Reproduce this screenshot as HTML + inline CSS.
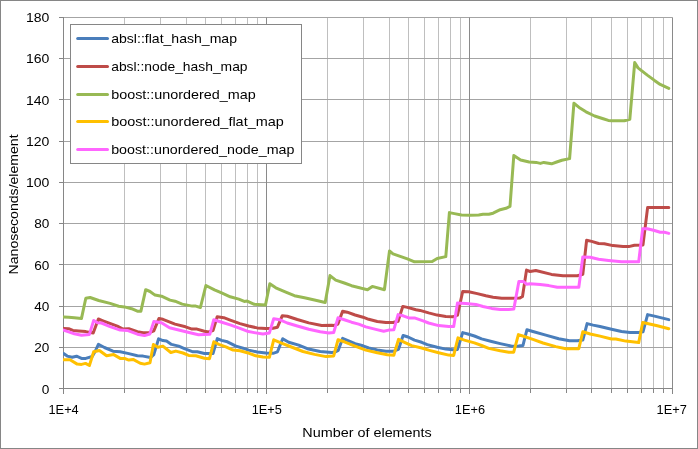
<!DOCTYPE html>
<html lang="en"><head><meta charset="utf-8"><title>Benchmark chart</title>
<style>
html,body{margin:0;padding:0;background:#fff;}
body{width:698px;height:449px;overflow:hidden;}
svg{display:block;}
text{font-family:"Liberation Sans",sans-serif;font-size:13.5px;fill:#000;}
.minor{stroke:#bfbfbf;stroke-width:1;}
.hgrid{stroke:#a4a4a4;stroke-width:1;}
.major{stroke:#8a8a8a;stroke-width:1;}
.axis{stroke:#868686;stroke-width:1;}
.s{fill:none;stroke-width:3;stroke-linejoin:round;stroke-linecap:round;}
</style></head><body>
<svg width="698" height="449" viewBox="0 0 698 449">
<rect x="0" y="0" width="698" height="449" fill="#fff"/>
<rect x="0.5" y="0.5" width="697" height="448" fill="none" stroke="#868686" stroke-width="1"/>

<g class="minor">
<line x1="124.5" y1="17.5" x2="124.5" y2="388.5"/>
<line x1="160.5" y1="17.5" x2="160.5" y2="388.5"/>
<line x1="186.5" y1="17.5" x2="186.5" y2="388.5"/>
<line x1="205.5" y1="17.5" x2="205.5" y2="388.5"/>
<line x1="221.5" y1="17.5" x2="221.5" y2="388.5"/>
<line x1="235.5" y1="17.5" x2="235.5" y2="388.5"/>
<line x1="247.5" y1="17.5" x2="247.5" y2="388.5"/>
<line x1="257.5" y1="17.5" x2="257.5" y2="388.5"/>
<line x1="327.5" y1="17.5" x2="327.5" y2="388.5"/>
<line x1="363.5" y1="17.5" x2="363.5" y2="388.5"/>
<line x1="389.5" y1="17.5" x2="389.5" y2="388.5"/>
<line x1="408.5" y1="17.5" x2="408.5" y2="388.5"/>
<line x1="424.5" y1="17.5" x2="424.5" y2="388.5"/>
<line x1="438.5" y1="17.5" x2="438.5" y2="388.5"/>
<line x1="450.5" y1="17.5" x2="450.5" y2="388.5"/>
<line x1="460.5" y1="17.5" x2="460.5" y2="388.5"/>
<line x1="530.5" y1="17.5" x2="530.5" y2="388.5"/>
<line x1="566.5" y1="17.5" x2="566.5" y2="388.5"/>
<line x1="591.5" y1="17.5" x2="591.5" y2="388.5"/>
<line x1="611.5" y1="17.5" x2="611.5" y2="388.5"/>
<line x1="627.5" y1="17.5" x2="627.5" y2="388.5"/>
<line x1="641.5" y1="17.5" x2="641.5" y2="388.5"/>
<line x1="653.5" y1="17.5" x2="653.5" y2="388.5"/>
<line x1="663.5" y1="17.5" x2="663.5" y2="388.5"/>
</g>
<g class="hgrid">
<line x1="63.5" y1="347.5" x2="672.5" y2="347.5"/>
<line x1="63.5" y1="306.5" x2="672.5" y2="306.5"/>
<line x1="63.5" y1="264.5" x2="672.5" y2="264.5"/>
<line x1="63.5" y1="223.5" x2="672.5" y2="223.5"/>
<line x1="63.5" y1="182.5" x2="672.5" y2="182.5"/>
<line x1="63.5" y1="141.5" x2="672.5" y2="141.5"/>
<line x1="63.5" y1="99.5" x2="672.5" y2="99.5"/>
<line x1="63.5" y1="58.5" x2="672.5" y2="58.5"/>
<line x1="63.5" y1="17.5" x2="672.5" y2="17.5"/>
</g>
<g class="major">
<line x1="266.5" y1="17.5" x2="266.5" y2="388.5"/>
<line x1="469.5" y1="17.5" x2="469.5" y2="388.5"/>
<line x1="672.5" y1="17.5" x2="672.5" y2="388.5"/>
</g>
<g class="axis">
<line x1="63.5" y1="17" x2="63.5" y2="394"/>
<line x1="59" y1="388.5" x2="673" y2="388.5"/>
<line x1="59" y1="347.5" x2="64" y2="347.5"/>
<line x1="59" y1="306.5" x2="64" y2="306.5"/>
<line x1="59" y1="264.5" x2="64" y2="264.5"/>
<line x1="59" y1="223.5" x2="64" y2="223.5"/>
<line x1="59" y1="182.5" x2="64" y2="182.5"/>
<line x1="59" y1="141.5" x2="64" y2="141.5"/>
<line x1="59" y1="99.5" x2="64" y2="99.5"/>
<line x1="59" y1="58.5" x2="64" y2="58.5"/>
<line x1="59" y1="17.5" x2="64" y2="17.5"/>
<line x1="124.5" y1="388" x2="124.5" y2="393"/>
<line x1="160.5" y1="388" x2="160.5" y2="393"/>
<line x1="186.5" y1="388" x2="186.5" y2="393"/>
<line x1="205.5" y1="388" x2="205.5" y2="393"/>
<line x1="221.5" y1="388" x2="221.5" y2="393"/>
<line x1="235.5" y1="388" x2="235.5" y2="393"/>
<line x1="247.5" y1="388" x2="247.5" y2="393"/>
<line x1="257.5" y1="388" x2="257.5" y2="393"/>
<line x1="327.5" y1="388" x2="327.5" y2="393"/>
<line x1="363.5" y1="388" x2="363.5" y2="393"/>
<line x1="389.5" y1="388" x2="389.5" y2="393"/>
<line x1="408.5" y1="388" x2="408.5" y2="393"/>
<line x1="424.5" y1="388" x2="424.5" y2="393"/>
<line x1="438.5" y1="388" x2="438.5" y2="393"/>
<line x1="450.5" y1="388" x2="450.5" y2="393"/>
<line x1="460.5" y1="388" x2="460.5" y2="393"/>
<line x1="530.5" y1="388" x2="530.5" y2="393"/>
<line x1="566.5" y1="388" x2="566.5" y2="393"/>
<line x1="591.5" y1="388" x2="591.5" y2="393"/>
<line x1="611.5" y1="388" x2="611.5" y2="393"/>
<line x1="627.5" y1="388" x2="627.5" y2="393"/>
<line x1="641.5" y1="388" x2="641.5" y2="393"/>
<line x1="653.5" y1="388" x2="653.5" y2="393"/>
<line x1="663.5" y1="388" x2="663.5" y2="393"/>
<line x1="266.5" y1="388" x2="266.5" y2="394"/>
<line x1="469.5" y1="388" x2="469.5" y2="394"/>
<line x1="672.5" y1="388" x2="672.5" y2="394"/>
</g>
<clipPath id="plotclip"><rect x="63" y="17" width="612" height="372"/></clipPath>
<g clip-path="url(#plotclip)">
<polyline class="s" stroke="#4a7ebb" points="63.6,353.6 67.2,356.1 72.2,357.2 76.5,356.2 81.5,358.4 85.8,358.4 92.2,356.5 95.1,351.5 98.4,344.3 104.4,347.5 113.0,351.2 120.2,351.8 128.8,353.6 137.4,355.8 143.1,356.1 150.5,357.5 153.8,354.6 158.6,338.8 162.9,340.6 166.5,341.1 171.5,344.4 178.7,346.1 184.4,348.7 193.0,351.8 197.3,351.8 204.4,353.5 213.0,353.5 217.3,338.6 221.6,340.4 227.4,341.8 236.0,346.1 243.1,348.2 248.6,350.1 257.2,352.0 265.8,353.0 273.0,353.3 277.5,351.8 282.7,338.7 288.7,342.2 298.7,345.1 307.3,348.7 320.2,351.5 331.7,352.6 334.3,352.3 338.3,350.3 342.6,338.4 348.6,340.8 355.1,343.7 363.0,345.8 368.7,348.0 377.3,349.9 385.9,351.3 393.0,351.3 398.5,349.4 403.1,335.5 408.1,337.0 414.5,340.1 421.7,342.3 427.2,344.6 437.2,347.2 445.8,349.1 453.0,349.8 457.5,349.4 462.7,332.6 468.7,334.3 474.4,336.0 481.6,338.9 491.6,341.5 500.2,343.6 511.7,346.2 518.6,346.1 522.9,345.6 526.9,329.8 532.9,331.5 545.8,335.1 558.7,338.7 569.5,340.8 577.3,340.8 582.8,340.1 587.1,323.6 593.1,325.1 600.0,326.5 611.5,329.2 621.5,331.5 630.1,332.5 638.7,332.5 643.0,331.8 647.6,314.6 654.5,316.1 668.8,319.6"/>
<polyline class="s" stroke="#be4b48" points="63.6,328.4 68.6,328.7 72.9,330.4 78.6,330.9 85.8,331.6 93.2,333.0 98.4,319.0 103.0,320.8 117.3,326.1 123.0,329.0 128.8,328.7 137.4,331.6 143.1,332.7 149.5,332.7 153.8,330.9 158.9,318.6 162.9,319.3 175.0,324.1 185.5,326.8 192.0,329.1 197.0,329.1 204.4,331.3 208.7,331.9 213.0,330.5 217.2,316.8 223.8,317.7 230.2,320.1 240.0,323.6 248.6,326.0 257.2,327.9 265.8,328.6 273.0,328.3 277.5,327.2 282.3,315.7 287.3,316.3 297.3,319.5 308.8,322.9 321.7,325.5 331.7,325.3 334.3,325.5 337.9,324.1 342.6,311.2 347.2,312.2 355.1,315.0 363.0,317.2 368.7,319.3 377.3,321.5 385.9,322.6 393.0,322.5 398.1,321.2 402.8,306.4 407.4,307.4 416.0,309.7 420.0,310.4 428.6,312.9 437.2,315.1 445.8,316.5 453.0,316.8 457.5,315.1 462.7,291.5 468.7,291.7 477.3,293.6 485.9,295.8 493.1,297.2 501.7,298.3 511.7,298.3 520.0,297.9 522.5,296.5 526.5,270.1 530.1,271.5 535.8,270.5 551.5,274.4 563.0,275.8 577.3,275.8 582.8,274.4 586.6,240.3 591.7,241.4 598.6,243.5 604.3,243.7 612.9,245.6 623.0,246.6 628.7,246.6 634.4,245.2 643.0,244.9 647.6,207.6 668.8,207.6"/>
<polyline class="s" stroke="#98b954" points="63.6,317.0 68.6,317.2 74.3,317.7 81.5,318.4 85.8,298.3 90.1,297.5 98.7,300.5 110.1,303.4 118.7,306.2 124.5,306.9 131.6,308.7 137.4,311.2 140.9,311.2 145.7,289.7 150.0,291.5 155.0,295.1 161.5,296.2 170.0,300.1 175.0,301.2 182.2,304.1 192.3,306.1 195.8,306.1 200.4,307.5 205.9,285.5 214.5,289.8 221.6,292.9 230.2,296.8 238.8,299.1 244.3,301.4 247.2,301.1 254.3,304.3 261.5,304.7 265.5,305.0 269.8,283.8 275.8,287.8 285.8,292.1 294.4,295.7 304.5,297.8 314.5,300.0 325.2,302.5 330.0,275.6 335.7,280.1 344.3,283.0 351.5,285.7 361.5,288.3 367.5,289.7 372.3,286.4 384.4,289.7 389.5,251.0 393.0,253.9 407.4,258.9 414.5,261.8 432.2,261.6 437.2,258.5 445.8,256.6 449.4,212.6 454.4,213.6 461.5,215.0 470.1,215.3 478.7,215.0 483.0,214.3 488.8,214.3 493.1,213.2 500.2,209.7 506.0,208.3 510.0,206.4 513.8,155.5 520.6,160.0 529.2,162.0 536.1,162.4 540.4,163.4 543.8,162.4 551.6,163.8 556.7,162.0 561.9,160.3 569.6,158.6 573.9,103.3 579.1,107.4 586.0,111.8 594.6,116.0 603.2,118.7 608.3,120.4 611.5,120.8 624.4,120.8 629.8,119.3 634.7,62.6 638.0,67.9 647.3,75.1 654.5,80.4 660.2,84.4 668.8,88.4"/>
<polyline class="s" stroke="#ffc000" points="63.6,359.8 70.0,359.8 77.2,364.1 81.5,364.4 85.5,363.4 89.4,365.5 93.7,351.8 99.4,350.5 106.6,355.8 113.7,354.6 120.2,358.4 124.5,358.4 128.8,360.1 133.1,359.4 140.2,363.2 144.5,364.1 150.0,362.7 153.4,344.5 157.9,347.2 162.9,346.1 170.8,352.5 175.8,351.1 183.0,353.0 188.7,355.4 195.8,355.8 204.4,358.3 209.5,358.7 213.8,341.8 218.8,344.4 225.9,346.8 233.1,350.1 240.0,350.8 247.2,352.7 255.8,355.8 262.9,357.0 269.4,357.3 273.7,339.8 281.5,343.2 290.1,346.5 303.0,351.5 314.5,354.4 326.0,356.6 333.7,355.9 338.0,339.8 344.3,341.8 354.4,345.8 365.8,350.1 377.3,352.7 387.3,354.7 393.8,355.2 398.5,339.4 404.5,342.3 411.7,345.6 421.7,348.0 428.6,350.1 438.6,352.7 448.7,355.1 453.7,355.4 458.0,337.9 464.4,340.1 474.4,342.9 481.6,345.5 488.8,348.4 500.2,350.8 508.8,352.2 513.7,352.2 518.4,334.6 524.3,336.5 532.9,339.4 543.0,343.0 555.8,346.6 565.9,348.7 578.8,348.7 582.8,331.8 590.2,334.0 600.0,336.1 611.5,339.0 615.8,339.0 625.8,341.1 638.7,342.6 642.7,322.5 647.3,323.5 657.3,325.8 668.8,328.7"/>
<polyline class="s" stroke="#ff66ff" points="63.6,330.1 68.6,331.9 74.3,333.7 81.5,335.2 89.4,334.4 93.7,320.5 97.5,322.7 101.5,323.0 110.1,326.6 120.2,330.1 127.3,330.4 137.4,334.2 144.5,335.6 149.8,334.0 153.8,321.6 161.5,322.8 169.5,327.8 185.8,331.8 198.5,334.7 209.8,334.3 213.8,319.7 220.2,321.8 230.2,324.9 240.0,328.3 247.2,331.2 254.3,332.6 262.9,334.1 269.4,332.9 273.7,318.7 280.0,319.8 287.3,323.0 297.3,326.0 308.8,329.3 320.2,331.8 328.8,333.1 333.7,332.5 338.0,317.8 344.3,319.8 351.5,322.2 358.7,324.1 365.8,326.9 375.8,329.4 383.7,331.2 388.7,330.1 393.8,329.8 398.1,314.6 403.1,315.8 408.8,317.9 414.5,317.9 423.1,320.8 428.6,323.0 438.6,325.6 448.7,326.6 453.7,326.6 457.5,302.9 465.8,303.6 475.9,304.4 483.0,306.5 491.6,308.4 500.2,309.4 508.8,309.4 513.8,309.1 518.9,281.6 523.6,281.6 526.5,284.2 530.1,283.7 540.1,284.4 548.7,285.6 557.3,287.3 578.8,287.3 582.8,256.9 590.2,257.3 598.6,259.2 608.6,260.4 621.5,261.8 638.7,261.8 642.7,228.7 647.3,228.7 654.5,230.5 660.2,232.3 664.5,232.3 668.8,233.4"/>
</g>
<rect x="70.5" y="24.5" width="231" height="139" fill="#fff" stroke="#868686" stroke-width="1"/>
<line x1="77.7" y1="38.4" x2="107.5" y2="38.4" stroke="#4a7ebb" stroke-width="3" stroke-linecap="round"/>
<text x="111.2" y="42.8" textLength="125.8" lengthAdjust="spacingAndGlyphs">absl::flat_hash_map</text>
<line x1="77.7" y1="66.4" x2="107.5" y2="66.4" stroke="#be4b48" stroke-width="3" stroke-linecap="round"/>
<text x="111.2" y="70.8" textLength="136.4" lengthAdjust="spacingAndGlyphs">absl::node_hash_map</text>
<line x1="77.7" y1="94.4" x2="107.5" y2="94.4" stroke="#98b954" stroke-width="3" stroke-linecap="round"/>
<text x="111.2" y="98.8" textLength="144.6" lengthAdjust="spacingAndGlyphs">boost::unordered_map</text>
<line x1="77.7" y1="121.5" x2="107.5" y2="121.5" stroke="#ffc000" stroke-width="3" stroke-linecap="round"/>
<text x="111.2" y="125.9" textLength="172.6" lengthAdjust="spacingAndGlyphs">boost::unordered_flat_map</text>
<line x1="77.7" y1="149.4" x2="107.5" y2="149.4" stroke="#ff66ff" stroke-width="3" stroke-linecap="round"/>
<text x="111.2" y="153.8" textLength="183.2" lengthAdjust="spacingAndGlyphs">boost::unordered_node_map</text>
<text x="41.7" y="394.0" textLength="7.6" lengthAdjust="spacingAndGlyphs">0</text>
<text x="34.2" y="352.0" textLength="15.1" lengthAdjust="spacingAndGlyphs">20</text>
<text x="34.2" y="310.8" textLength="15.1" lengthAdjust="spacingAndGlyphs">40</text>
<text x="34.2" y="269.5" textLength="15.1" lengthAdjust="spacingAndGlyphs">60</text>
<text x="34.2" y="228.3" textLength="15.1" lengthAdjust="spacingAndGlyphs">80</text>
<text x="25.9" y="187.1" textLength="23.4" lengthAdjust="spacingAndGlyphs">100</text>
<text x="25.9" y="145.9" textLength="23.4" lengthAdjust="spacingAndGlyphs">120</text>
<text x="25.9" y="104.6" textLength="23.4" lengthAdjust="spacingAndGlyphs">140</text>
<text x="25.9" y="63.4" textLength="23.4" lengthAdjust="spacingAndGlyphs">160</text>
<text x="25.9" y="22.2" textLength="23.4" lengthAdjust="spacingAndGlyphs">180</text>
<text x="48.5" y="414.3" textLength="30.2" lengthAdjust="spacingAndGlyphs">1E+4</text>
<text x="251.7" y="414.3" textLength="30.2" lengthAdjust="spacingAndGlyphs">1E+5</text>
<text x="454.8" y="414.3" textLength="30.2" lengthAdjust="spacingAndGlyphs">1E+6</text>
<text x="656.6" y="414.3" textLength="30.2" lengthAdjust="spacingAndGlyphs">1E+7</text>
<text x="302.3" y="436.7" textLength="129.5" lengthAdjust="spacingAndGlyphs">Number of elements</text>
<text transform="translate(17.7,274.4) rotate(-90)" x="0" y="0" textLength="140" lengthAdjust="spacingAndGlyphs">Nanoseconds/element</text>
</svg></body></html>
